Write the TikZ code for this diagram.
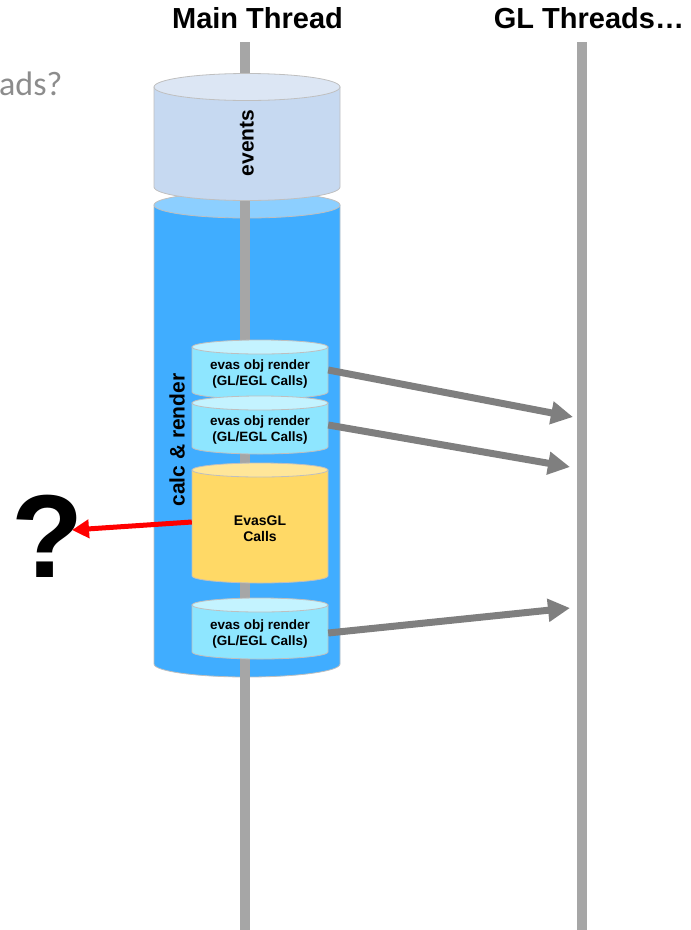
\documentclass[tikz,border=0pt]{standalone}
\usepackage{fontspec}
\setmainfont{Liberation Sans}
\newfontfamily\slidefont{Carlito}
\usetikzlibrary{arrows.meta}

\definecolor{barGray}{HTML}{A6A6A6}
\definecolor{edgeGray}{HTML}{BFBFBF}
\definecolor{arrowGray}{HTML}{7F7F7F}
\definecolor{titleGray}{HTML}{8C8C8C}
\definecolor{eventsBody}{HTML}{C6D9F1}
\definecolor{eventsTop}{HTML}{DCE6F4}
\definecolor{calcBody}{HTML}{40ADFF}
\definecolor{calcTop}{HTML}{8CCFFF}
\definecolor{renderBody}{HTML}{8EE6FF}
\definecolor{renderTop}{HTML}{C4F3FF}
\definecolor{glBody}{HTML}{FFD966}
\definecolor{glTop}{HTML}{FFE699}

% \drum{cx}{y top}{y bottom}{x radius}{y radius}{body colour}{top colour}
\newcommand\drum[7]{%
  \path[drumedge, fill=#6] ({#1-#4},#2) -- ({#1-#4},#3)
     arc[start angle=180, end angle=360, x radius=#4pt, y radius=#5pt]
     -- ({#1+#4},#2) -- cycle;
  \path[drumedge, fill=#7] (#1,#2) ellipse [x radius=#4pt, y radius=#5pt];
}

\begin{document}
\begin{tikzpicture}[x=1pt, y=-1pt,
  drumedge/.style={draw=edgeGray, line width=0.8pt},
  threadbar/.style={draw=barGray, line width=10.5pt},
  heading/.style={font=\bfseries\fontsize{29}{32}\selectfont, inner sep=0pt, anchor=base},
  sidelabel/.style={font=\bfseries\fontsize{21}{24}\selectfont, rotate=90, inner sep=0pt},
  callbox/.style={font=\bfseries\fontsize{13.5}{16}\selectfont, align=center, inner sep=0pt,
                  minimum width=136pt},
  callarrow/.style={draw=arrowGray, line width=7pt,
                    -{Triangle[length=22pt, width=22pt]}},
  lostarrow/.style={draw=red, line width=5pt,
                    -{Triangle[length=17pt, width=18pt]}}]

\useasboundingbox (0,0) rectangle (691,930);

% headings
\node[heading] (mainTitle) at (257.5,28) {Main Thread};
\node[heading] (glTitle) at (589,28) {GL Threads…};
\node[font=\slidefont\fontsize{34}{40}\selectfont, text=titleGray, inner sep=0pt,
      anchor=base west] (slideTitle) at (-1,95) {ads?};

% calc & render block
\drum{247}{205}{664}{93}{13}{calcBody}{calcTop}

% thread time lines
\coordinate (mainTop) at (245,42);
\coordinate (mainBot) at (245,930);
\coordinate (glTop) at (582,42);
\coordinate (glBot) at (582,930);
\draw[threadbar] (mainTop) -- (mainBot);
\draw[threadbar] (glTop) -- (glBot);

% events block
\drum{247}{87}{187}{93}{13.5}{eventsBody}{eventsTop}
\node[sidelabel] (events) at (247,143) {events};
\node[sidelabel] (calc) at (177,440) {calc \& render};

% render calls
\drum{260}{347}{392}{68}{7}{renderBody}{renderTop}
\node[callbox, minimum height=45pt] (r1) at (260,374.5) {evas obj render\\(GL/EGL Calls)};
\drum{260}{403}{447}{68}{7}{renderBody}{renderTop}
\node[callbox, minimum height=44pt] (r2) at (260,430) {evas obj render\\(GL/EGL Calls)};
\drum{260}{470}{576}{68}{7}{glBody}{glTop}
\node[callbox, font=\bfseries\fontsize{14}{16}\selectfont, minimum height=100pt] (egl) at (260,529) {EvasGL\\Calls};
\drum{260}{605}{652}{68}{7}{renderBody}{renderTop}
\node[callbox, minimum height=45pt] (r3) at (260,634) {evas obj render\\(GL/EGL Calls)};

% hand-over to the GL threads
\coordinate (t1) at (573,417);
\coordinate (t2) at (570,467);
\coordinate (t3) at (570,608);
\draw[callarrow] ([yshift=4.5pt]r1.east) -- (t1);
\draw[callarrow] ([yshift=5pt]r2.east) -- (t2);
\draw[callarrow] ([yshift=1pt]r3.east) -- (t3);

% EvasGL calls with no thread to go to
\node[font=\bfseries\fontsize{118}{120}\selectfont, inner sep=0pt, anchor=base] (qm) at (48,577) {?};
\coordinate (qtip) at (72,530);
\draw[lostarrow] ([yshift=7pt]egl.west) -- (qtip);

\end{tikzpicture}
\end{document}
